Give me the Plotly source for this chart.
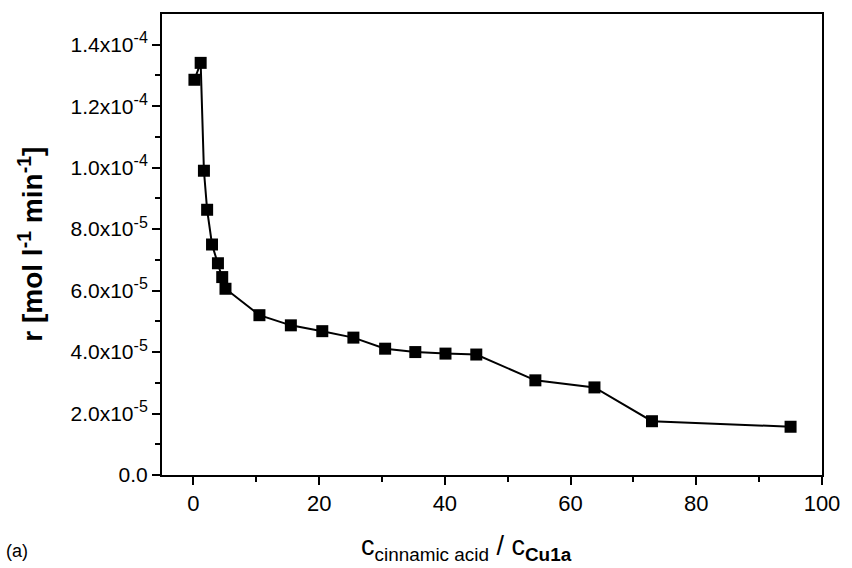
import plotly.graph_objects as go

ratio = [0.16, 1.15, 1.67, 2.18, 2.96, 3.9, 4.58, 5.1, 10.5, 15.5, 20.5, 25.45,
         30.5, 35.3, 40.1, 45.0, 54.4, 63.8, 72.95, 95.0]
rate = [1.286e-4, 1.341e-4, 9.9e-5, 8.63e-5, 7.5e-5, 6.89e-5, 6.44e-5, 6.06e-5,
        5.2e-5, 4.87e-5, 4.68e-5, 4.47e-5, 4.11e-5, 4.0e-5, 3.95e-5, 3.92e-5,
        3.08e-5, 2.85e-5, 1.75e-5, 1.57e-5]

y_tickvals = [0, 2e-5, 4e-5, 6e-5, 8e-5, 1e-4, 1.2e-4, 1.4e-4]
y_mantissa = ["0.0", "2.0", "4.0", "6.0", "8.0", "1.0", "1.2", "1.4"]
y_exponent = [None, "-5", "-5", "-5", "-5", "-4", "-4", "-4"]
y_minor = [1e-5, 3e-5, 5e-5, 7e-5, 9e-5, 1.1e-4, 1.3e-4]
x_tickvals = [0, 20, 40, 60, 80, 100]
x_minor = [10, 30, 50, 70, 90]

y_ticktext = [m if e is None else
              f"{m}x10<sup><span style='font-size:16px'>{e}</span></sup>"
              for m, e in zip(y_mantissa, y_exponent)]

FONT = "Liberation Sans, Arial, sans-serif"

L, R, T, B = 162, 14, 13, 93
PW, PH = 852 - L - R, 568 - T - B

fig = go.Figure()
fig.add_trace(go.Scatter(
    x=ratio, y=rate, mode="lines+markers",
    line=dict(color="black", width=2),
    marker=dict(symbol="square", size=12, color="black"),
    showlegend=False,
))

fig.update_layout(
    width=852, height=568,
    margin=dict(l=L, r=R, t=T, b=B),
    paper_bgcolor="white", plot_bgcolor="white",
    font=dict(family=FONT, color="black"),
)
fig.update_xaxes(
    range=[-5, 100], showgrid=False, zeroline=False,
    showline=True, linecolor="black", linewidth=2, mirror=True,
    ticks="outside", ticklen=8, tickwidth=2, tickcolor="black",
    tickmode="array", tickvals=x_tickvals, ticklabeloverflow="allow",
    tickfont=dict(size=22, family=FONT),
    minor=dict(tickmode="array", tickvals=x_minor, ticks="outside",
               ticklen=5, tickwidth=2, tickcolor="black", showgrid=False),
)
fig.update_yaxes(
    range=[0, 1.5e-4], showgrid=False, zeroline=False,
    showline=True, linecolor="black", linewidth=2, mirror=True,
    ticks="outside", ticklen=8, tickwidth=2, tickcolor="black",
    tickmode="array", tickvals=y_tickvals, ticktext=y_ticktext,
    tickfont=dict(size=21, family=FONT),
    minor=dict(tickmode="array", tickvals=y_minor, ticks="outside",
               ticklen=5, tickwidth=2, tickcolor="black", showgrid=False),
)

fig.add_annotation(
    text="c<sub>cinnamic acid</sub> / c<sub><b>Cu1a</b></sub>",
    xref="paper", yref="paper", x=(474 - L) / PW, y=-(548 - (568 - B)) / PH,
    xanchor="center", yanchor="middle", showarrow=False,
    font=dict(size=27, family=FONT),
)
fig.add_annotation(
    text="<b>r [mol l<sup>-1</sup> min<sup>-1</sup>]</b>",
    xref="paper", yref="paper", x=-(L - 27) / PW, y=0.5,
    xanchor="center", yanchor="middle", textangle=-90, showarrow=False,
    font=dict(size=28, family=FONT),
)
fig.add_annotation(
    text="(a)",
    xref="paper", yref="paper", x=-(L - 0) / PW, y=-(551 - (568 - B)) / PH,
    xanchor="left", yanchor="middle", showarrow=False,
    font=dict(size=18, family=FONT),
)

fig.write_html("out.html")
